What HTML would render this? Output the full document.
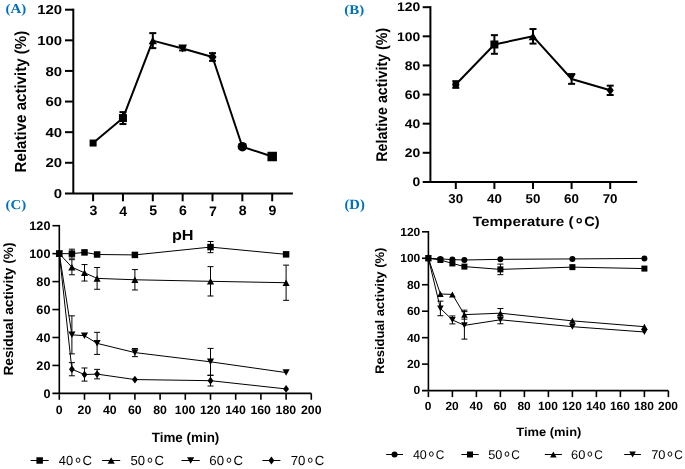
<!DOCTYPE html><html><head><meta charset="utf-8"><style>html,body{margin:0;padding:0;background:#fff;overflow:hidden;}svg{display:block;will-change:transform;}text{text-rendering:geometricPrecision;}</style></head><body>
<svg width="685" height="469" viewBox="0 0 685 469">
<rect width="685" height="469" fill="#fff"/>
<line x1="73.30" y1="8.70" x2="73.30" y2="193.40" stroke="#000" stroke-width="2" stroke-linecap="butt"/>
<line x1="65.00" y1="193.40" x2="292.90" y2="193.40" stroke="#000" stroke-width="2" stroke-linecap="butt"/>
<text transform="translate(53.79,197.97) scale(1.1489,1)" font-size="13.028" font-weight="bold" font-family='"Liberation Sans", sans-serif' fill="#000">0</text>
<line x1="65.00" y1="162.78" x2="73.30" y2="162.78" stroke="#000" stroke-width="2" stroke-linecap="butt"/>
<text transform="translate(45.48,167.35) scale(1.1489,1)" font-size="13.028" font-weight="bold" font-family='"Liberation Sans", sans-serif' fill="#000">20</text>
<line x1="65.00" y1="132.17" x2="73.30" y2="132.17" stroke="#000" stroke-width="2" stroke-linecap="butt"/>
<text transform="translate(45.48,136.74) scale(1.1489,1)" font-size="13.028" font-weight="bold" font-family='"Liberation Sans", sans-serif' fill="#000">40</text>
<line x1="65.00" y1="101.55" x2="73.30" y2="101.55" stroke="#000" stroke-width="2" stroke-linecap="butt"/>
<text transform="translate(45.48,106.12) scale(1.1489,1)" font-size="13.028" font-weight="bold" font-family='"Liberation Sans", sans-serif' fill="#000">60</text>
<line x1="65.00" y1="70.93" x2="73.30" y2="70.93" stroke="#000" stroke-width="2" stroke-linecap="butt"/>
<text transform="translate(45.48,75.50) scale(1.1489,1)" font-size="13.028" font-weight="bold" font-family='"Liberation Sans", sans-serif' fill="#000">80</text>
<line x1="65.00" y1="40.32" x2="73.30" y2="40.32" stroke="#000" stroke-width="2" stroke-linecap="butt"/>
<text transform="translate(37.18,44.89) scale(1.1489,1)" font-size="13.028" font-weight="bold" font-family='"Liberation Sans", sans-serif' fill="#000">100</text>
<line x1="65.00" y1="9.70" x2="73.30" y2="9.70" stroke="#000" stroke-width="2" stroke-linecap="butt"/>
<text transform="translate(37.18,14.27) scale(1.1489,1)" font-size="13.028" font-weight="bold" font-family='"Liberation Sans", sans-serif' fill="#000">120</text>
<line x1="93.10" y1="193.40" x2="93.10" y2="201.30" stroke="#000" stroke-width="2" stroke-linecap="butt"/>
<text transform="translate(89.55,215.46) scale(1.0351,1)" font-size="13.662" font-weight="bold" font-family='"Liberation Sans", sans-serif' fill="#000">3</text>
<line x1="122.95" y1="193.40" x2="122.95" y2="201.30" stroke="#000" stroke-width="2" stroke-linecap="butt"/>
<text transform="translate(119.26,215.60) scale(1.0351,1)" font-size="13.662" font-weight="bold" font-family='"Liberation Sans", sans-serif' fill="#000">4</text>
<line x1="152.80" y1="193.40" x2="152.80" y2="201.30" stroke="#000" stroke-width="2" stroke-linecap="butt"/>
<text transform="translate(149.14,215.46) scale(1.0351,1)" font-size="13.662" font-weight="bold" font-family='"Liberation Sans", sans-serif' fill="#000">5</text>
<line x1="182.65" y1="193.40" x2="182.65" y2="201.30" stroke="#000" stroke-width="2" stroke-linecap="butt"/>
<text transform="translate(179.03,215.46) scale(1.0351,1)" font-size="13.662" font-weight="bold" font-family='"Liberation Sans", sans-serif' fill="#000">6</text>
<line x1="212.50" y1="193.40" x2="212.50" y2="201.30" stroke="#000" stroke-width="2" stroke-linecap="butt"/>
<text transform="translate(208.88,215.60) scale(1.0351,1)" font-size="13.662" font-weight="bold" font-family='"Liberation Sans", sans-serif' fill="#000">7</text>
<line x1="242.35" y1="193.40" x2="242.35" y2="201.30" stroke="#000" stroke-width="2" stroke-linecap="butt"/>
<text transform="translate(238.73,215.46) scale(1.0351,1)" font-size="13.662" font-weight="bold" font-family='"Liberation Sans", sans-serif' fill="#000">8</text>
<line x1="272.20" y1="193.40" x2="272.20" y2="201.30" stroke="#000" stroke-width="2" stroke-linecap="butt"/>
<text transform="translate(268.58,215.46) scale(1.0351,1)" font-size="13.662" font-weight="bold" font-family='"Liberation Sans", sans-serif' fill="#000">9</text>
<path d="M93.10,143.04 L122.95,118.08 L152.80,40.62 L182.65,48.58 L212.50,57.00 L242.35,146.71 L272.20,156.51" fill="none" stroke="#000" stroke-width="2" stroke-linejoin="round"/>
<line x1="122.95" y1="112.11" x2="122.95" y2="124.05" stroke="#000" stroke-width="2" stroke-linecap="butt"/>
<line x1="119.45" y1="112.11" x2="126.45" y2="112.11" stroke="#000" stroke-width="2" stroke-linecap="butt"/>
<line x1="119.45" y1="124.05" x2="126.45" y2="124.05" stroke="#000" stroke-width="2" stroke-linecap="butt"/>
<line x1="152.80" y1="33.12" x2="152.80" y2="48.12" stroke="#000" stroke-width="2" stroke-linecap="butt"/>
<line x1="149.30" y1="33.12" x2="156.30" y2="33.12" stroke="#000" stroke-width="2" stroke-linecap="butt"/>
<line x1="149.30" y1="48.12" x2="156.30" y2="48.12" stroke="#000" stroke-width="2" stroke-linecap="butt"/>
<line x1="182.65" y1="46.75" x2="182.65" y2="50.42" stroke="#000" stroke-width="2" stroke-linecap="butt"/>
<line x1="179.15" y1="46.75" x2="186.15" y2="46.75" stroke="#000" stroke-width="2" stroke-linecap="butt"/>
<line x1="179.15" y1="50.42" x2="186.15" y2="50.42" stroke="#000" stroke-width="2" stroke-linecap="butt"/>
<line x1="212.50" y1="53.18" x2="212.50" y2="60.83" stroke="#000" stroke-width="2" stroke-linecap="butt"/>
<line x1="209.00" y1="53.18" x2="216.00" y2="53.18" stroke="#000" stroke-width="2" stroke-linecap="butt"/>
<line x1="209.00" y1="60.83" x2="216.00" y2="60.83" stroke="#000" stroke-width="2" stroke-linecap="butt"/>
<line x1="242.35" y1="144.41" x2="242.35" y2="149.01" stroke="#000" stroke-width="2" stroke-linecap="butt"/>
<line x1="238.85" y1="144.41" x2="245.85" y2="144.41" stroke="#000" stroke-width="2" stroke-linecap="butt"/>
<line x1="238.85" y1="149.01" x2="245.85" y2="149.01" stroke="#000" stroke-width="2" stroke-linecap="butt"/>
<line x1="272.20" y1="154.21" x2="272.20" y2="158.80" stroke="#000" stroke-width="2" stroke-linecap="butt"/>
<line x1="268.70" y1="154.21" x2="275.70" y2="154.21" stroke="#000" stroke-width="2" stroke-linecap="butt"/>
<line x1="268.70" y1="158.80" x2="275.70" y2="158.80" stroke="#000" stroke-width="2" stroke-linecap="butt"/>
<rect x="89.60" y="139.54" width="7.00" height="7.00" fill="#000"/>
<rect x="118.95" y="114.08" width="8.00" height="8.00" fill="#000"/>
<path d="M152.80,36.87 L156.93,44.37 L148.68,44.37Z" fill="#000"/>
<path d="M182.65,52.58 L187.05,44.58 L178.25,44.58Z" fill="#000"/>
<path d="M212.50,51.60 L216.55,57.00 L212.50,62.40 L208.45,57.00Z" fill="#000"/>
<circle cx="242.35" cy="146.71" r="4.75" fill="#000"/>
<rect x="267.45" y="151.76" width="9.50" height="9.50" fill="#000"/>
<line x1="430.40" y1="6.20" x2="430.40" y2="181.90" stroke="#000" stroke-width="2" stroke-linecap="butt"/>
<line x1="422.70" y1="181.90" x2="637.20" y2="181.90" stroke="#000" stroke-width="2" stroke-linecap="butt"/>
<text transform="translate(412.57,186.17) scale(1.1123,1)" font-size="12.535" font-weight="bold" font-family='"Liberation Sans", sans-serif' fill="#000">0</text>
<line x1="422.70" y1="152.78" x2="430.40" y2="152.78" stroke="#000" stroke-width="2" stroke-linecap="butt"/>
<text transform="translate(404.83,157.06) scale(1.1123,1)" font-size="12.535" font-weight="bold" font-family='"Liberation Sans", sans-serif' fill="#000">20</text>
<line x1="422.70" y1="123.67" x2="430.40" y2="123.67" stroke="#000" stroke-width="2" stroke-linecap="butt"/>
<text transform="translate(404.83,127.94) scale(1.1123,1)" font-size="12.535" font-weight="bold" font-family='"Liberation Sans", sans-serif' fill="#000">40</text>
<line x1="422.70" y1="94.55" x2="430.40" y2="94.55" stroke="#000" stroke-width="2" stroke-linecap="butt"/>
<text transform="translate(404.83,98.82) scale(1.1123,1)" font-size="12.535" font-weight="bold" font-family='"Liberation Sans", sans-serif' fill="#000">60</text>
<line x1="422.70" y1="65.43" x2="430.40" y2="65.43" stroke="#000" stroke-width="2" stroke-linecap="butt"/>
<text transform="translate(404.83,69.71) scale(1.1123,1)" font-size="12.535" font-weight="bold" font-family='"Liberation Sans", sans-serif' fill="#000">80</text>
<line x1="422.70" y1="36.32" x2="430.40" y2="36.32" stroke="#000" stroke-width="2" stroke-linecap="butt"/>
<text transform="translate(397.09,40.59) scale(1.1123,1)" font-size="12.535" font-weight="bold" font-family='"Liberation Sans", sans-serif' fill="#000">100</text>
<line x1="422.70" y1="7.20" x2="430.40" y2="7.20" stroke="#000" stroke-width="2" stroke-linecap="butt"/>
<text transform="translate(397.09,11.47) scale(1.1123,1)" font-size="12.535" font-weight="bold" font-family='"Liberation Sans", sans-serif' fill="#000">120</text>
<line x1="455.80" y1="181.90" x2="455.80" y2="189.00" stroke="#000" stroke-width="2" stroke-linecap="butt"/>
<text transform="translate(448.37,203.27) scale(1.0453,1)" font-size="12.817" font-weight="bold" font-family='"Liberation Sans", sans-serif' fill="#000">30</text>
<line x1="494.40" y1="181.90" x2="494.40" y2="189.00" stroke="#000" stroke-width="2" stroke-linecap="butt"/>
<text transform="translate(487.03,203.27) scale(1.0453,1)" font-size="12.817" font-weight="bold" font-family='"Liberation Sans", sans-serif' fill="#000">40</text>
<line x1="533.00" y1="181.90" x2="533.00" y2="189.00" stroke="#000" stroke-width="2" stroke-linecap="butt"/>
<text transform="translate(525.53,203.27) scale(1.0453,1)" font-size="12.817" font-weight="bold" font-family='"Liberation Sans", sans-serif' fill="#000">50</text>
<line x1="571.60" y1="181.90" x2="571.60" y2="189.00" stroke="#000" stroke-width="2" stroke-linecap="butt"/>
<text transform="translate(564.10,203.27) scale(1.0453,1)" font-size="12.817" font-weight="bold" font-family='"Liberation Sans", sans-serif' fill="#000">60</text>
<line x1="610.20" y1="181.90" x2="610.20" y2="189.00" stroke="#000" stroke-width="2" stroke-linecap="butt"/>
<text transform="translate(602.63,203.27) scale(1.0453,1)" font-size="12.817" font-weight="bold" font-family='"Liberation Sans", sans-serif' fill="#000">70</text>
<path d="M455.80,84.50 L494.40,44.47 L533.00,36.32 L571.60,78.97 L610.20,90.33" fill="none" stroke="#000" stroke-width="2" stroke-linejoin="round"/>
<line x1="455.80" y1="81.16" x2="455.80" y2="87.85" stroke="#000" stroke-width="2" stroke-linecap="butt"/>
<line x1="452.30" y1="81.16" x2="459.30" y2="81.16" stroke="#000" stroke-width="2" stroke-linecap="butt"/>
<line x1="452.30" y1="87.85" x2="459.30" y2="87.85" stroke="#000" stroke-width="2" stroke-linecap="butt"/>
<line x1="494.40" y1="35.15" x2="494.40" y2="53.79" stroke="#000" stroke-width="2" stroke-linecap="butt"/>
<line x1="490.90" y1="35.15" x2="497.90" y2="35.15" stroke="#000" stroke-width="2" stroke-linecap="butt"/>
<line x1="490.90" y1="53.79" x2="497.90" y2="53.79" stroke="#000" stroke-width="2" stroke-linecap="butt"/>
<line x1="533.00" y1="29.04" x2="533.00" y2="43.60" stroke="#000" stroke-width="2" stroke-linecap="butt"/>
<line x1="529.50" y1="29.04" x2="536.50" y2="29.04" stroke="#000" stroke-width="2" stroke-linecap="butt"/>
<line x1="529.50" y1="43.60" x2="536.50" y2="43.60" stroke="#000" stroke-width="2" stroke-linecap="butt"/>
<line x1="571.60" y1="74.10" x2="571.60" y2="83.85" stroke="#000" stroke-width="2" stroke-linecap="butt"/>
<line x1="568.10" y1="74.10" x2="575.10" y2="74.10" stroke="#000" stroke-width="2" stroke-linecap="butt"/>
<line x1="568.10" y1="83.85" x2="575.10" y2="83.85" stroke="#000" stroke-width="2" stroke-linecap="butt"/>
<line x1="610.20" y1="85.67" x2="610.20" y2="94.99" stroke="#000" stroke-width="2" stroke-linecap="butt"/>
<line x1="606.70" y1="85.67" x2="613.70" y2="85.67" stroke="#000" stroke-width="2" stroke-linecap="butt"/>
<line x1="606.70" y1="94.99" x2="613.70" y2="94.99" stroke="#000" stroke-width="2" stroke-linecap="butt"/>
<circle cx="455.80" cy="84.50" r="3.50" fill="#000"/>
<rect x="490.40" y="40.47" width="8.00" height="8.00" fill="#000"/>
<path d="M533.00,32.32 L537.40,40.32 L528.60,40.32Z" fill="#000"/>
<path d="M571.60,81.27 L575.67,73.87 L567.53,73.87Z" fill="#000"/>
<path d="M610.20,85.53 L613.80,90.33 L610.20,95.13 L606.60,90.33Z" fill="#000"/>
<line x1="59.30" y1="224.90" x2="59.30" y2="393.40" stroke="#000" stroke-width="1.6" stroke-linecap="butt"/>
<line x1="52.40" y1="393.40" x2="311.30" y2="393.40" stroke="#000" stroke-width="1.6" stroke-linecap="butt"/>
<text transform="translate(43.38,397.78) scale(1.0215,1)" font-size="12.394" font-weight="bold" font-family='"Liberation Sans", sans-serif' fill="#000">0</text>
<line x1="52.40" y1="365.45" x2="59.30" y2="365.45" stroke="#000" stroke-width="1.6" stroke-linecap="butt"/>
<text transform="translate(36.35,369.83) scale(1.0215,1)" font-size="12.394" font-weight="bold" font-family='"Liberation Sans", sans-serif' fill="#000">20</text>
<line x1="52.40" y1="337.50" x2="59.30" y2="337.50" stroke="#000" stroke-width="1.6" stroke-linecap="butt"/>
<text transform="translate(36.35,341.88) scale(1.0215,1)" font-size="12.394" font-weight="bold" font-family='"Liberation Sans", sans-serif' fill="#000">40</text>
<line x1="52.40" y1="309.55" x2="59.30" y2="309.55" stroke="#000" stroke-width="1.6" stroke-linecap="butt"/>
<text transform="translate(36.35,313.93) scale(1.0215,1)" font-size="12.394" font-weight="bold" font-family='"Liberation Sans", sans-serif' fill="#000">60</text>
<line x1="52.40" y1="281.60" x2="59.30" y2="281.60" stroke="#000" stroke-width="1.6" stroke-linecap="butt"/>
<text transform="translate(36.35,285.98) scale(1.0215,1)" font-size="12.394" font-weight="bold" font-family='"Liberation Sans", sans-serif' fill="#000">80</text>
<line x1="52.40" y1="253.65" x2="59.30" y2="253.65" stroke="#000" stroke-width="1.6" stroke-linecap="butt"/>
<text transform="translate(29.33,258.03) scale(1.0215,1)" font-size="12.394" font-weight="bold" font-family='"Liberation Sans", sans-serif' fill="#000">100</text>
<line x1="52.40" y1="225.70" x2="59.30" y2="225.70" stroke="#000" stroke-width="1.6" stroke-linecap="butt"/>
<text transform="translate(29.33,230.08) scale(1.0215,1)" font-size="12.394" font-weight="bold" font-family='"Liberation Sans", sans-serif' fill="#000">120</text>
<line x1="59.30" y1="394.20" x2="59.30" y2="399.80" stroke="#000" stroke-width="1.6" stroke-linecap="butt"/>
<text transform="translate(55.78,414.08) scale(1.0177,1)" font-size="12.113" font-weight="bold" font-family='"Liberation Sans", sans-serif' fill="#000">0</text>
<line x1="84.50" y1="393.40" x2="84.50" y2="399.80" stroke="#000" stroke-width="1.6" stroke-linecap="butt"/>
<text transform="translate(77.59,414.08) scale(1.0177,1)" font-size="12.113" font-weight="bold" font-family='"Liberation Sans", sans-serif' fill="#000">20</text>
<line x1="109.70" y1="393.40" x2="109.70" y2="399.80" stroke="#000" stroke-width="1.6" stroke-linecap="butt"/>
<text transform="translate(102.91,414.08) scale(1.0177,1)" font-size="12.113" font-weight="bold" font-family='"Liberation Sans", sans-serif' fill="#000">40</text>
<line x1="134.90" y1="393.40" x2="134.90" y2="399.80" stroke="#000" stroke-width="1.6" stroke-linecap="butt"/>
<text transform="translate(127.99,414.08) scale(1.0177,1)" font-size="12.113" font-weight="bold" font-family='"Liberation Sans", sans-serif' fill="#000">60</text>
<line x1="160.10" y1="393.40" x2="160.10" y2="399.80" stroke="#000" stroke-width="1.6" stroke-linecap="butt"/>
<text transform="translate(153.22,414.08) scale(1.0177,1)" font-size="12.113" font-weight="bold" font-family='"Liberation Sans", sans-serif' fill="#000">80</text>
<line x1="185.30" y1="393.40" x2="185.30" y2="399.80" stroke="#000" stroke-width="1.6" stroke-linecap="butt"/>
<text transform="translate(174.78,414.08) scale(1.0177,1)" font-size="12.113" font-weight="bold" font-family='"Liberation Sans", sans-serif' fill="#000">100</text>
<line x1="210.50" y1="393.40" x2="210.50" y2="399.80" stroke="#000" stroke-width="1.6" stroke-linecap="butt"/>
<text transform="translate(199.98,414.08) scale(1.0177,1)" font-size="12.113" font-weight="bold" font-family='"Liberation Sans", sans-serif' fill="#000">120</text>
<line x1="235.70" y1="393.40" x2="235.70" y2="399.80" stroke="#000" stroke-width="1.6" stroke-linecap="butt"/>
<text transform="translate(225.18,414.08) scale(1.0177,1)" font-size="12.113" font-weight="bold" font-family='"Liberation Sans", sans-serif' fill="#000">140</text>
<line x1="260.90" y1="393.40" x2="260.90" y2="399.80" stroke="#000" stroke-width="1.6" stroke-linecap="butt"/>
<text transform="translate(250.38,414.08) scale(1.0177,1)" font-size="12.113" font-weight="bold" font-family='"Liberation Sans", sans-serif' fill="#000">160</text>
<line x1="286.10" y1="393.40" x2="286.10" y2="399.80" stroke="#000" stroke-width="1.6" stroke-linecap="butt"/>
<text transform="translate(275.58,414.08) scale(1.0177,1)" font-size="12.113" font-weight="bold" font-family='"Liberation Sans", sans-serif' fill="#000">180</text>
<line x1="311.30" y1="393.40" x2="311.30" y2="399.80" stroke="#000" stroke-width="1.6" stroke-linecap="butt"/>
<text transform="translate(300.97,414.08) scale(1.0177,1)" font-size="12.113" font-weight="bold" font-family='"Liberation Sans", sans-serif' fill="#000">200</text>
<path d="M59.30,253.65 L71.90,253.65 L84.50,252.39 L97.10,254.49 L134.90,254.91 L210.50,247.08 L286.10,254.35" fill="none" stroke="#000" stroke-width="1" stroke-linejoin="round"/>
<path d="M59.30,253.65 L71.90,267.21 L84.50,272.80 L97.10,278.39 L134.90,279.78 L210.50,281.32 L286.10,282.72" fill="none" stroke="#000" stroke-width="1" stroke-linejoin="round"/>
<path d="M59.30,253.65 L71.90,334.84 L84.50,335.68 L97.10,343.37 L134.90,352.59 L210.50,361.82 L286.10,372.58" fill="none" stroke="#000" stroke-width="1" stroke-linejoin="round"/>
<path d="M59.30,253.65 L71.90,369.22 L84.50,374.53 L97.10,374.11 L134.90,379.56 L210.50,380.68 L286.10,388.93" fill="none" stroke="#000" stroke-width="1" stroke-linejoin="round"/>
<line x1="71.90" y1="249.18" x2="71.90" y2="258.12" stroke="#000" stroke-width="1" stroke-linecap="butt"/>
<line x1="68.90" y1="249.18" x2="74.90" y2="249.18" stroke="#000" stroke-width="1" stroke-linecap="butt"/>
<line x1="68.90" y1="258.12" x2="74.90" y2="258.12" stroke="#000" stroke-width="1" stroke-linecap="butt"/>
<line x1="210.50" y1="241.49" x2="210.50" y2="252.67" stroke="#000" stroke-width="1" stroke-linecap="butt"/>
<line x1="207.50" y1="241.49" x2="213.50" y2="241.49" stroke="#000" stroke-width="1" stroke-linecap="butt"/>
<line x1="207.50" y1="252.67" x2="213.50" y2="252.67" stroke="#000" stroke-width="1" stroke-linecap="butt"/>
<line x1="71.90" y1="259.66" x2="71.90" y2="274.75" stroke="#000" stroke-width="1" stroke-linecap="butt"/>
<line x1="68.90" y1="259.66" x2="74.90" y2="259.66" stroke="#000" stroke-width="1" stroke-linecap="butt"/>
<line x1="68.90" y1="274.75" x2="74.90" y2="274.75" stroke="#000" stroke-width="1" stroke-linecap="butt"/>
<line x1="84.50" y1="264.55" x2="84.50" y2="281.04" stroke="#000" stroke-width="1" stroke-linecap="butt"/>
<line x1="81.50" y1="264.55" x2="87.50" y2="264.55" stroke="#000" stroke-width="1" stroke-linecap="butt"/>
<line x1="81.50" y1="281.04" x2="87.50" y2="281.04" stroke="#000" stroke-width="1" stroke-linecap="butt"/>
<line x1="97.10" y1="267.49" x2="97.10" y2="289.29" stroke="#000" stroke-width="1" stroke-linecap="butt"/>
<line x1="94.10" y1="267.49" x2="100.10" y2="267.49" stroke="#000" stroke-width="1" stroke-linecap="butt"/>
<line x1="94.10" y1="289.29" x2="100.10" y2="289.29" stroke="#000" stroke-width="1" stroke-linecap="butt"/>
<line x1="134.90" y1="269.58" x2="134.90" y2="289.98" stroke="#000" stroke-width="1" stroke-linecap="butt"/>
<line x1="131.90" y1="269.58" x2="137.90" y2="269.58" stroke="#000" stroke-width="1" stroke-linecap="butt"/>
<line x1="131.90" y1="289.98" x2="137.90" y2="289.98" stroke="#000" stroke-width="1" stroke-linecap="butt"/>
<line x1="210.50" y1="266.65" x2="210.50" y2="295.99" stroke="#000" stroke-width="1" stroke-linecap="butt"/>
<line x1="207.50" y1="266.65" x2="213.50" y2="266.65" stroke="#000" stroke-width="1" stroke-linecap="butt"/>
<line x1="207.50" y1="295.99" x2="213.50" y2="295.99" stroke="#000" stroke-width="1" stroke-linecap="butt"/>
<line x1="286.10" y1="265.11" x2="286.10" y2="300.33" stroke="#000" stroke-width="1" stroke-linecap="butt"/>
<line x1="283.10" y1="265.11" x2="289.10" y2="265.11" stroke="#000" stroke-width="1" stroke-linecap="butt"/>
<line x1="283.10" y1="300.33" x2="289.10" y2="300.33" stroke="#000" stroke-width="1" stroke-linecap="butt"/>
<line x1="71.90" y1="315.84" x2="71.90" y2="353.85" stroke="#000" stroke-width="1" stroke-linecap="butt"/>
<line x1="68.90" y1="315.84" x2="74.90" y2="315.84" stroke="#000" stroke-width="1" stroke-linecap="butt"/>
<line x1="68.90" y1="353.85" x2="74.90" y2="353.85" stroke="#000" stroke-width="1" stroke-linecap="butt"/>
<line x1="97.10" y1="332.33" x2="97.10" y2="354.41" stroke="#000" stroke-width="1" stroke-linecap="butt"/>
<line x1="94.10" y1="332.33" x2="100.10" y2="332.33" stroke="#000" stroke-width="1" stroke-linecap="butt"/>
<line x1="94.10" y1="354.41" x2="100.10" y2="354.41" stroke="#000" stroke-width="1" stroke-linecap="butt"/>
<line x1="134.90" y1="348.54" x2="134.90" y2="356.65" stroke="#000" stroke-width="1" stroke-linecap="butt"/>
<line x1="131.90" y1="348.54" x2="137.90" y2="348.54" stroke="#000" stroke-width="1" stroke-linecap="butt"/>
<line x1="131.90" y1="356.65" x2="137.90" y2="356.65" stroke="#000" stroke-width="1" stroke-linecap="butt"/>
<line x1="210.50" y1="348.40" x2="210.50" y2="375.23" stroke="#000" stroke-width="1" stroke-linecap="butt"/>
<line x1="207.50" y1="348.40" x2="213.50" y2="348.40" stroke="#000" stroke-width="1" stroke-linecap="butt"/>
<line x1="207.50" y1="375.23" x2="213.50" y2="375.23" stroke="#000" stroke-width="1" stroke-linecap="butt"/>
<line x1="71.90" y1="362.65" x2="71.90" y2="375.79" stroke="#000" stroke-width="1" stroke-linecap="butt"/>
<line x1="68.90" y1="362.65" x2="74.90" y2="362.65" stroke="#000" stroke-width="1" stroke-linecap="butt"/>
<line x1="68.90" y1="375.79" x2="74.90" y2="375.79" stroke="#000" stroke-width="1" stroke-linecap="butt"/>
<line x1="84.50" y1="367.97" x2="84.50" y2="381.10" stroke="#000" stroke-width="1" stroke-linecap="butt"/>
<line x1="81.50" y1="367.97" x2="87.50" y2="367.97" stroke="#000" stroke-width="1" stroke-linecap="butt"/>
<line x1="81.50" y1="381.10" x2="87.50" y2="381.10" stroke="#000" stroke-width="1" stroke-linecap="butt"/>
<line x1="97.10" y1="369.36" x2="97.10" y2="378.87" stroke="#000" stroke-width="1" stroke-linecap="butt"/>
<line x1="94.10" y1="369.36" x2="100.10" y2="369.36" stroke="#000" stroke-width="1" stroke-linecap="butt"/>
<line x1="94.10" y1="378.87" x2="100.10" y2="378.87" stroke="#000" stroke-width="1" stroke-linecap="butt"/>
<line x1="210.50" y1="375.37" x2="210.50" y2="385.99" stroke="#000" stroke-width="1" stroke-linecap="butt"/>
<line x1="207.50" y1="375.37" x2="213.50" y2="375.37" stroke="#000" stroke-width="1" stroke-linecap="butt"/>
<line x1="207.50" y1="385.99" x2="213.50" y2="385.99" stroke="#000" stroke-width="1" stroke-linecap="butt"/>
<rect x="56.05" y="250.40" width="6.50" height="6.50" fill="#000"/>
<rect x="68.65" y="250.40" width="6.50" height="6.50" fill="#000"/>
<rect x="81.25" y="249.14" width="6.50" height="6.50" fill="#000"/>
<rect x="93.85" y="251.24" width="6.50" height="6.50" fill="#000"/>
<rect x="131.65" y="251.66" width="6.50" height="6.50" fill="#000"/>
<rect x="207.25" y="243.83" width="6.50" height="6.50" fill="#000"/>
<rect x="282.85" y="251.10" width="6.50" height="6.50" fill="#000"/>
<path d="M59.30,250.40 L62.88,256.90 L55.72,256.90Z" fill="#000"/>
<path d="M71.90,263.96 L75.47,270.46 L68.32,270.46Z" fill="#000"/>
<path d="M84.50,269.55 L88.08,276.05 L80.92,276.05Z" fill="#000"/>
<path d="M97.10,275.14 L100.67,281.64 L93.52,281.64Z" fill="#000"/>
<path d="M134.90,276.53 L138.47,283.03 L131.32,283.03Z" fill="#000"/>
<path d="M210.50,278.07 L214.07,284.57 L206.93,284.57Z" fill="#000"/>
<path d="M286.10,279.47 L289.68,285.97 L282.53,285.97Z" fill="#000"/>
<path d="M59.30,256.90 L62.88,250.40 L55.72,250.40Z" fill="#000"/>
<path d="M71.90,338.09 L75.47,331.59 L68.32,331.59Z" fill="#000"/>
<path d="M84.50,338.93 L88.08,332.43 L80.92,332.43Z" fill="#000"/>
<path d="M97.10,346.62 L100.67,340.12 L93.52,340.12Z" fill="#000"/>
<path d="M134.90,355.84 L138.47,349.34 L131.32,349.34Z" fill="#000"/>
<path d="M210.50,365.07 L214.07,358.57 L206.93,358.57Z" fill="#000"/>
<path d="M286.10,375.83 L289.68,369.33 L282.53,369.33Z" fill="#000"/>
<path d="M59.30,249.75 L62.22,253.65 L59.30,257.55 L56.38,253.65Z" fill="#000"/>
<path d="M71.90,365.32 L74.82,369.22 L71.90,373.12 L68.97,369.22Z" fill="#000"/>
<path d="M84.50,370.63 L87.42,374.53 L84.50,378.43 L81.58,374.53Z" fill="#000"/>
<path d="M97.10,370.21 L100.02,374.11 L97.10,378.01 L94.17,374.11Z" fill="#000"/>
<path d="M134.90,375.66 L137.82,379.56 L134.90,383.46 L131.97,379.56Z" fill="#000"/>
<path d="M210.50,376.78 L213.43,380.68 L210.50,384.58 L207.57,380.68Z" fill="#000"/>
<path d="M286.10,385.03 L289.03,388.93 L286.10,392.83 L283.18,388.93Z" fill="#000"/>
<line x1="428.40" y1="231.00" x2="428.40" y2="390.60" stroke="#000" stroke-width="1.6" stroke-linecap="butt"/>
<line x1="422.00" y1="390.60" x2="668.30" y2="390.60" stroke="#000" stroke-width="1.6" stroke-linecap="butt"/>
<text transform="translate(413.59,394.43) scale(1.0247,1)" font-size="11.761" font-weight="bold" font-family='"Liberation Sans", sans-serif' fill="#000">0</text>
<line x1="422.00" y1="364.13" x2="428.40" y2="364.13" stroke="#000" stroke-width="1.6" stroke-linecap="butt"/>
<text transform="translate(406.91,367.97) scale(1.0247,1)" font-size="11.761" font-weight="bold" font-family='"Liberation Sans", sans-serif' fill="#000">20</text>
<line x1="422.00" y1="337.67" x2="428.40" y2="337.67" stroke="#000" stroke-width="1.6" stroke-linecap="butt"/>
<text transform="translate(406.91,341.50) scale(1.0247,1)" font-size="11.761" font-weight="bold" font-family='"Liberation Sans", sans-serif' fill="#000">40</text>
<line x1="422.00" y1="311.20" x2="428.40" y2="311.20" stroke="#000" stroke-width="1.6" stroke-linecap="butt"/>
<text transform="translate(406.91,315.03) scale(1.0247,1)" font-size="11.761" font-weight="bold" font-family='"Liberation Sans", sans-serif' fill="#000">60</text>
<line x1="422.00" y1="284.73" x2="428.40" y2="284.73" stroke="#000" stroke-width="1.6" stroke-linecap="butt"/>
<text transform="translate(406.91,288.57) scale(1.0247,1)" font-size="11.761" font-weight="bold" font-family='"Liberation Sans", sans-serif' fill="#000">80</text>
<line x1="422.00" y1="258.27" x2="428.40" y2="258.27" stroke="#000" stroke-width="1.6" stroke-linecap="butt"/>
<text transform="translate(400.22,262.10) scale(1.0247,1)" font-size="11.761" font-weight="bold" font-family='"Liberation Sans", sans-serif' fill="#000">100</text>
<line x1="422.00" y1="231.80" x2="428.40" y2="231.80" stroke="#000" stroke-width="1.6" stroke-linecap="butt"/>
<text transform="translate(400.22,235.63) scale(1.0247,1)" font-size="11.761" font-weight="bold" font-family='"Liberation Sans", sans-serif' fill="#000">120</text>
<line x1="428.40" y1="391.40" x2="428.40" y2="397.10" stroke="#000" stroke-width="1.6" stroke-linecap="butt"/>
<text transform="translate(424.68,410.48) scale(1.0100,1)" font-size="11.831" font-weight="bold" font-family='"Liberation Sans", sans-serif' fill="#000">0</text>
<line x1="452.40" y1="390.60" x2="452.40" y2="397.10" stroke="#000" stroke-width="1.6" stroke-linecap="butt"/>
<text transform="translate(445.40,410.48) scale(1.0100,1)" font-size="11.831" font-weight="bold" font-family='"Liberation Sans", sans-serif' fill="#000">20</text>
<line x1="476.40" y1="390.60" x2="476.40" y2="397.10" stroke="#000" stroke-width="1.6" stroke-linecap="butt"/>
<text transform="translate(469.52,410.48) scale(1.0100,1)" font-size="11.831" font-weight="bold" font-family='"Liberation Sans", sans-serif' fill="#000">40</text>
<line x1="500.40" y1="390.60" x2="500.40" y2="397.10" stroke="#000" stroke-width="1.6" stroke-linecap="butt"/>
<text transform="translate(493.40,410.48) scale(1.0100,1)" font-size="11.831" font-weight="bold" font-family='"Liberation Sans", sans-serif' fill="#000">60</text>
<line x1="524.40" y1="390.60" x2="524.40" y2="397.10" stroke="#000" stroke-width="1.6" stroke-linecap="butt"/>
<text transform="translate(517.43,410.48) scale(1.0100,1)" font-size="11.831" font-weight="bold" font-family='"Liberation Sans", sans-serif' fill="#000">80</text>
<line x1="548.40" y1="390.60" x2="548.40" y2="397.10" stroke="#000" stroke-width="1.6" stroke-linecap="butt"/>
<text transform="translate(537.90,410.48) scale(1.0100,1)" font-size="11.831" font-weight="bold" font-family='"Liberation Sans", sans-serif' fill="#000">100</text>
<line x1="572.40" y1="390.60" x2="572.40" y2="397.10" stroke="#000" stroke-width="1.6" stroke-linecap="butt"/>
<text transform="translate(561.90,410.48) scale(1.0100,1)" font-size="11.831" font-weight="bold" font-family='"Liberation Sans", sans-serif' fill="#000">120</text>
<line x1="596.40" y1="390.60" x2="596.40" y2="397.10" stroke="#000" stroke-width="1.6" stroke-linecap="butt"/>
<text transform="translate(585.90,410.48) scale(1.0100,1)" font-size="11.831" font-weight="bold" font-family='"Liberation Sans", sans-serif' fill="#000">140</text>
<line x1="620.40" y1="390.60" x2="620.40" y2="397.10" stroke="#000" stroke-width="1.6" stroke-linecap="butt"/>
<text transform="translate(609.90,410.48) scale(1.0100,1)" font-size="11.831" font-weight="bold" font-family='"Liberation Sans", sans-serif' fill="#000">160</text>
<line x1="644.40" y1="390.60" x2="644.40" y2="397.10" stroke="#000" stroke-width="1.6" stroke-linecap="butt"/>
<text transform="translate(633.90,410.48) scale(1.0100,1)" font-size="11.831" font-weight="bold" font-family='"Liberation Sans", sans-serif' fill="#000">180</text>
<line x1="668.40" y1="390.60" x2="668.40" y2="397.10" stroke="#000" stroke-width="1.6" stroke-linecap="butt"/>
<text transform="translate(658.08,410.48) scale(1.0100,1)" font-size="11.831" font-weight="bold" font-family='"Liberation Sans", sans-serif' fill="#000">200</text>
<path d="M428.40,258.27 L440.40,258.93 L452.40,259.59 L464.40,259.99 L500.40,259.33 L572.40,258.93 L644.40,258.40" fill="none" stroke="#000" stroke-width="1" stroke-linejoin="round"/>
<path d="M428.40,258.27 L440.40,259.99 L452.40,263.43 L464.40,266.60 L500.40,269.38 L572.40,267.13 L644.40,268.59" fill="none" stroke="#000" stroke-width="1" stroke-linejoin="round"/>
<path d="M428.40,258.27 L440.40,294.00 L452.40,294.39 L464.40,314.64 L500.40,313.19 L572.40,320.86 L644.40,326.68" fill="none" stroke="#000" stroke-width="1" stroke-linejoin="round"/>
<path d="M428.40,258.27 L440.40,308.42 L452.40,319.93 L464.40,325.36 L500.40,319.80 L572.40,326.68 L644.40,331.98" fill="none" stroke="#000" stroke-width="1" stroke-linejoin="round"/>
<line x1="500.40" y1="264.09" x2="500.40" y2="274.68" stroke="#000" stroke-width="1" stroke-linecap="butt"/>
<line x1="497.40" y1="264.09" x2="503.40" y2="264.09" stroke="#000" stroke-width="1" stroke-linecap="butt"/>
<line x1="497.40" y1="274.68" x2="503.40" y2="274.68" stroke="#000" stroke-width="1" stroke-linecap="butt"/>
<line x1="464.40" y1="310.14" x2="464.40" y2="319.14" stroke="#000" stroke-width="1" stroke-linecap="butt"/>
<line x1="461.40" y1="310.14" x2="467.40" y2="310.14" stroke="#000" stroke-width="1" stroke-linecap="butt"/>
<line x1="461.40" y1="319.14" x2="467.40" y2="319.14" stroke="#000" stroke-width="1" stroke-linecap="butt"/>
<line x1="500.40" y1="308.55" x2="500.40" y2="317.82" stroke="#000" stroke-width="1" stroke-linecap="butt"/>
<line x1="497.40" y1="308.55" x2="503.40" y2="308.55" stroke="#000" stroke-width="1" stroke-linecap="butt"/>
<line x1="497.40" y1="317.82" x2="503.40" y2="317.82" stroke="#000" stroke-width="1" stroke-linecap="butt"/>
<line x1="440.40" y1="301.14" x2="440.40" y2="315.70" stroke="#000" stroke-width="1" stroke-linecap="butt"/>
<line x1="437.40" y1="301.14" x2="443.40" y2="301.14" stroke="#000" stroke-width="1" stroke-linecap="butt"/>
<line x1="437.40" y1="315.70" x2="443.40" y2="315.70" stroke="#000" stroke-width="1" stroke-linecap="butt"/>
<line x1="452.40" y1="315.96" x2="452.40" y2="323.90" stroke="#000" stroke-width="1" stroke-linecap="butt"/>
<line x1="449.40" y1="315.96" x2="455.40" y2="315.96" stroke="#000" stroke-width="1" stroke-linecap="butt"/>
<line x1="449.40" y1="323.90" x2="455.40" y2="323.90" stroke="#000" stroke-width="1" stroke-linecap="butt"/>
<line x1="464.40" y1="311.60" x2="464.40" y2="339.12" stroke="#000" stroke-width="1" stroke-linecap="butt"/>
<line x1="461.40" y1="311.60" x2="467.40" y2="311.60" stroke="#000" stroke-width="1" stroke-linecap="butt"/>
<line x1="461.40" y1="339.12" x2="467.40" y2="339.12" stroke="#000" stroke-width="1" stroke-linecap="butt"/>
<line x1="500.40" y1="315.83" x2="500.40" y2="323.77" stroke="#000" stroke-width="1" stroke-linecap="butt"/>
<line x1="497.40" y1="315.83" x2="503.40" y2="315.83" stroke="#000" stroke-width="1" stroke-linecap="butt"/>
<line x1="497.40" y1="323.77" x2="503.40" y2="323.77" stroke="#000" stroke-width="1" stroke-linecap="butt"/>
<circle cx="428.40" cy="258.27" r="3.00" fill="#000"/>
<circle cx="440.40" cy="258.93" r="3.00" fill="#000"/>
<circle cx="452.40" cy="259.59" r="3.00" fill="#000"/>
<circle cx="464.40" cy="259.99" r="3.00" fill="#000"/>
<circle cx="500.40" cy="259.33" r="3.00" fill="#000"/>
<circle cx="572.40" cy="258.93" r="3.00" fill="#000"/>
<circle cx="644.40" cy="258.40" r="3.00" fill="#000"/>
<rect x="425.40" y="255.27" width="6.00" height="6.00" fill="#000"/>
<rect x="437.40" y="256.99" width="6.00" height="6.00" fill="#000"/>
<rect x="449.40" y="260.43" width="6.00" height="6.00" fill="#000"/>
<rect x="461.40" y="263.60" width="6.00" height="6.00" fill="#000"/>
<rect x="497.40" y="266.38" width="6.00" height="6.00" fill="#000"/>
<rect x="569.40" y="264.13" width="6.00" height="6.00" fill="#000"/>
<rect x="641.40" y="265.59" width="6.00" height="6.00" fill="#000"/>
<path d="M428.40,255.27 L431.70,261.27 L425.10,261.27Z" fill="#000"/>
<path d="M440.40,291.00 L443.70,297.00 L437.10,297.00Z" fill="#000"/>
<path d="M452.40,291.39 L455.70,297.39 L449.10,297.39Z" fill="#000"/>
<path d="M464.40,311.64 L467.70,317.64 L461.10,317.64Z" fill="#000"/>
<path d="M500.40,310.19 L503.70,316.19 L497.10,316.19Z" fill="#000"/>
<path d="M572.40,317.86 L575.70,323.86 L569.10,323.86Z" fill="#000"/>
<path d="M644.40,323.68 L647.70,329.68 L641.10,329.68Z" fill="#000"/>
<path d="M428.40,261.27 L431.70,255.27 L425.10,255.27Z" fill="#000"/>
<path d="M440.40,311.42 L443.70,305.42 L437.10,305.42Z" fill="#000"/>
<path d="M452.40,322.93 L455.70,316.93 L449.10,316.93Z" fill="#000"/>
<path d="M464.40,328.36 L467.70,322.36 L461.10,322.36Z" fill="#000"/>
<path d="M500.40,322.80 L503.70,316.80 L497.10,316.80Z" fill="#000"/>
<path d="M572.40,329.68 L575.70,323.68 L569.10,323.68Z" fill="#000"/>
<path d="M644.40,334.98 L647.70,328.98 L641.10,328.98Z" fill="#000"/>
<text transform="translate(26.13,172.38) rotate(-90) scale(0.9404,1)" font-size="16.043" font-weight="bold" font-family='"Liberation Sans", sans-serif' fill="#000">Relative activity (%)</text>
<text transform="translate(387.34,161.73) rotate(-90) scale(0.9200,1)" font-size="15.508" font-weight="bold" font-family='"Liberation Sans", sans-serif' fill="#000">Relative activity (%)</text>
<text transform="translate(12.89,375.59) rotate(-90) scale(1.0243,1)" font-size="13.369" font-weight="bold" font-family='"Liberation Sans", sans-serif' fill="#000">Residual activity (%)</text>
<text transform="translate(384.37,373.94) rotate(-90) scale(1.0386,1)" font-size="12.513" font-weight="bold" font-family='"Liberation Sans", sans-serif' fill="#000">Residual activity (%)</text>
<text transform="translate(171.94,239.62) scale(1.1080,1)" font-size="14.667" font-weight="bold" font-family='"Liberation Sans", sans-serif' fill="#000">pH</text>
<text transform="translate(472.85,225.97) scale(1.1334,1)" font-size="13.476" font-weight="bold" font-family='"Liberation Sans", sans-serif' fill="#000">Temperature (</text>
<text transform="translate(584.32,225.97) scale(1.0843,1)" font-size="13.476" font-weight="bold" font-family='"Liberation Sans", sans-serif' fill="#000">C)</text>
<circle cx="579.2" cy="220.7" r="2.1" fill="none" stroke="#000" stroke-width="1.3"/>
<text transform="translate(151.77,442.05) scale(0.9875,1)" font-size="13.583" font-weight="bold" font-family='"Liberation Sans", sans-serif' fill="#000">Time (min)</text>
<text transform="translate(516.27,436.26) scale(1.0700,1)" font-size="12.086" font-weight="bold" font-family='"Liberation Sans", sans-serif' fill="#000">Time (min)</text>
<text transform="translate(5.53,13.49) scale(1.1041,1)" font-size="13.516" font-weight="bold" font-family='"Liberation Serif", serif' fill="#0070C0">(A)</text>
<text transform="translate(344.23,13.82) scale(1.1144,1)" font-size="13.407" font-weight="bold" font-family='"Liberation Serif", serif' fill="#0070C0">(B)</text>
<text transform="translate(5.53,209.49) scale(1.1041,1)" font-size="13.516" font-weight="bold" font-family='"Liberation Serif", serif' fill="#0070C0">(C)</text>
<text transform="translate(344.44,209.25) scale(1.0364,1)" font-size="14.176" font-weight="bold" font-family='"Liberation Serif", serif' fill="#0070C0">(D)</text>
<line x1="30.60" y1="460.50" x2="48.70" y2="460.50" stroke="#000" stroke-width="1" stroke-linecap="butt"/>
<rect x="36.40" y="457.25" width="6.50" height="6.50" fill="#000"/>
<text transform="translate(58.78,465.47) scale(0.9758,1)" font-size="13.239" font-weight="normal" font-family='"Liberation Sans", sans-serif' fill="#000">40</text>
<ellipse cx="78.05" cy="460.20" rx="1.85" ry="2.20" fill="none" stroke="#000" stroke-width="0.95"/>
<text transform="translate(82.54,465.47) scale(0.9951,1)" font-size="13.239" font-weight="normal" font-family='"Liberation Sans", sans-serif' fill="#000">C</text>
<line x1="102.10" y1="460.50" x2="120.20" y2="460.50" stroke="#000" stroke-width="1" stroke-linecap="butt"/>
<path d="M111.15,457.25 L114.73,463.75 L107.58,463.75Z" fill="#000"/>
<text transform="translate(130.48,465.47) scale(0.9900,1)" font-size="13.239" font-weight="normal" font-family='"Liberation Sans", sans-serif' fill="#000">50</text>
<ellipse cx="149.95" cy="460.20" rx="1.85" ry="2.20" fill="none" stroke="#000" stroke-width="0.95"/>
<text transform="translate(154.44,465.47) scale(0.9951,1)" font-size="13.239" font-weight="normal" font-family='"Liberation Sans", sans-serif' fill="#000">C</text>
<line x1="181.50" y1="460.50" x2="199.80" y2="460.50" stroke="#000" stroke-width="1" stroke-linecap="butt"/>
<path d="M190.65,463.75 L194.22,457.25 L187.08,457.25Z" fill="#000"/>
<text transform="translate(209.34,465.47) scale(0.9997,1)" font-size="13.239" font-weight="normal" font-family='"Liberation Sans", sans-serif' fill="#000">60</text>
<ellipse cx="228.95" cy="460.20" rx="1.85" ry="2.20" fill="none" stroke="#000" stroke-width="0.95"/>
<text transform="translate(233.44,465.47) scale(0.9951,1)" font-size="13.239" font-weight="normal" font-family='"Liberation Sans", sans-serif' fill="#000">C</text>
<line x1="262.40" y1="460.50" x2="280.40" y2="460.50" stroke="#000" stroke-width="1" stroke-linecap="butt"/>
<path d="M271.40,456.60 L274.32,460.50 L271.40,464.40 L268.47,460.50Z" fill="#000"/>
<text transform="translate(290.64,465.47) scale(0.9997,1)" font-size="13.239" font-weight="normal" font-family='"Liberation Sans", sans-serif' fill="#000">70</text>
<ellipse cx="310.25" cy="460.20" rx="1.85" ry="2.20" fill="none" stroke="#000" stroke-width="0.95"/>
<text transform="translate(314.74,465.47) scale(0.9951,1)" font-size="13.239" font-weight="normal" font-family='"Liberation Sans", sans-serif' fill="#000">C</text>
<line x1="386.10" y1="454.50" x2="403.00" y2="454.50" stroke="#000" stroke-width="1" stroke-linecap="butt"/>
<circle cx="394.55" cy="454.50" r="3.00" fill="#000"/>
<text transform="translate(412.89,459.17) scale(0.9889,1)" font-size="12.676" font-weight="normal" font-family='"Liberation Sans", sans-serif' fill="#000">40</text>
<ellipse cx="431.35" cy="454.05" rx="1.90" ry="2.25" fill="none" stroke="#000" stroke-width="0.95"/>
<text transform="translate(435.70,459.17) scale(0.9392,1)" font-size="12.676" font-weight="normal" font-family='"Liberation Sans", sans-serif' fill="#000">C</text>
<line x1="461.30" y1="454.50" x2="478.70" y2="454.50" stroke="#000" stroke-width="1" stroke-linecap="butt"/>
<rect x="467.00" y="451.50" width="6.00" height="6.00" fill="#000"/>
<text transform="translate(488.29,459.17) scale(1.0033,1)" font-size="12.676" font-weight="normal" font-family='"Liberation Sans", sans-serif' fill="#000">50</text>
<ellipse cx="506.95" cy="454.05" rx="1.90" ry="2.25" fill="none" stroke="#000" stroke-width="0.95"/>
<text transform="translate(511.30,459.17) scale(0.9392,1)" font-size="12.676" font-weight="normal" font-family='"Liberation Sans", sans-serif' fill="#000">C</text>
<line x1="544.80" y1="454.50" x2="561.90" y2="454.50" stroke="#000" stroke-width="1" stroke-linecap="butt"/>
<path d="M553.35,451.50 L556.65,457.50 L550.05,457.50Z" fill="#000"/>
<text transform="translate(571.06,459.17) scale(1.0132,1)" font-size="12.676" font-weight="normal" font-family='"Liberation Sans", sans-serif' fill="#000">60</text>
<ellipse cx="589.85" cy="454.05" rx="1.90" ry="2.25" fill="none" stroke="#000" stroke-width="0.95"/>
<text transform="translate(594.20,459.17) scale(0.9392,1)" font-size="12.676" font-weight="normal" font-family='"Liberation Sans", sans-serif' fill="#000">C</text>
<line x1="624.20" y1="454.50" x2="640.90" y2="454.50" stroke="#000" stroke-width="1" stroke-linecap="butt"/>
<path d="M632.55,457.50 L635.85,451.50 L629.25,451.50Z" fill="#000"/>
<text transform="translate(651.16,459.17) scale(1.0132,1)" font-size="12.676" font-weight="normal" font-family='"Liberation Sans", sans-serif' fill="#000">70</text>
<ellipse cx="669.95" cy="454.05" rx="1.90" ry="2.25" fill="none" stroke="#000" stroke-width="0.95"/>
<text transform="translate(674.30,459.17) scale(0.9392,1)" font-size="12.676" font-weight="normal" font-family='"Liberation Sans", sans-serif' fill="#000">C</text>
</svg></body></html>
